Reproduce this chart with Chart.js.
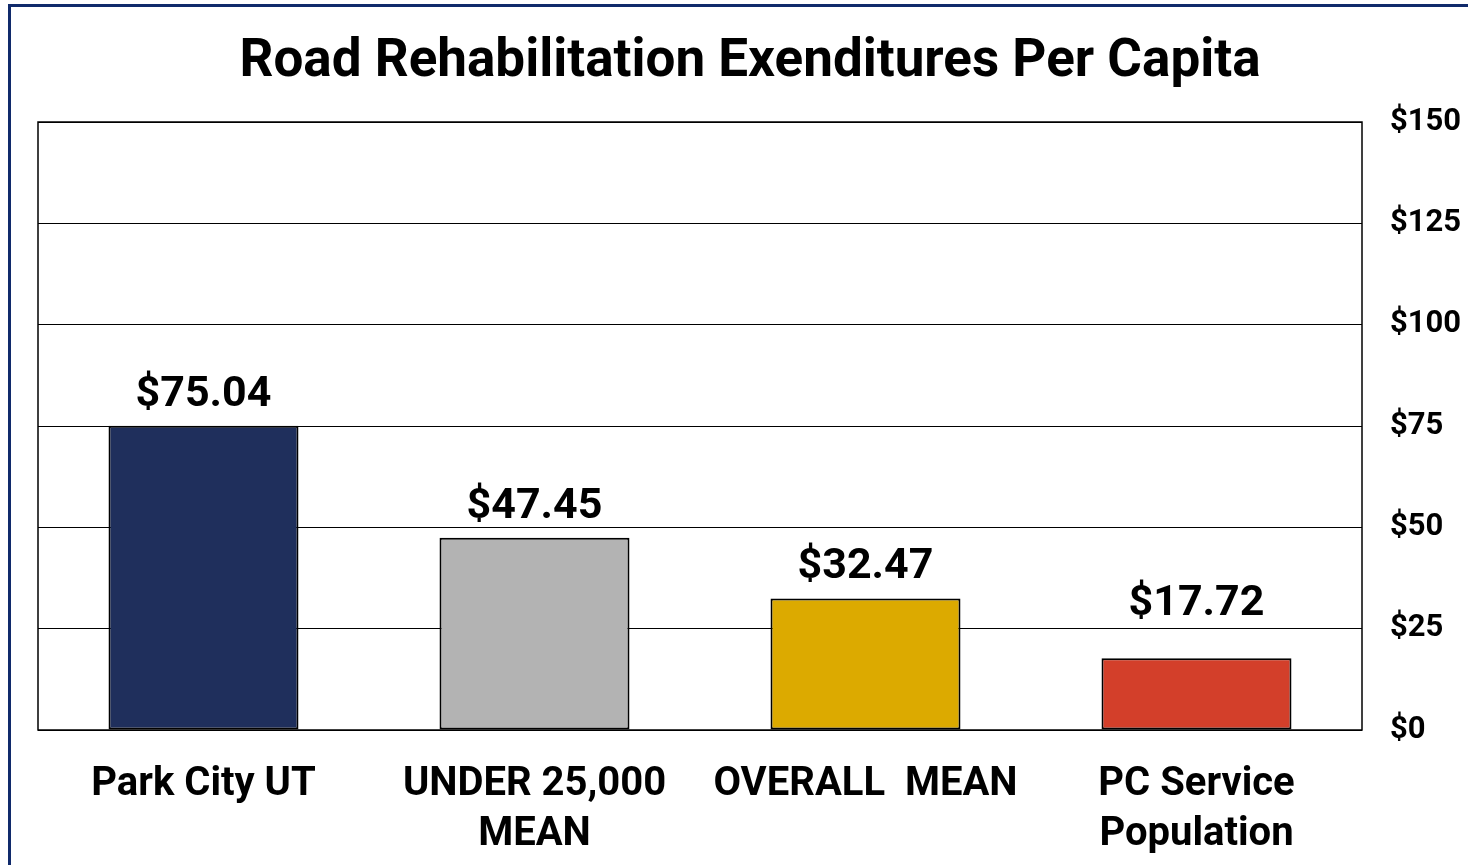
<!DOCTYPE html>
<html>
<head>
<meta charset="utf-8">
<script src="https://cdn.jsdelivr.net/npm/chart.js@4"></script>
<style>
  html, body { margin: 0; padding: 0; background: #fff; }
  #wrap { position: relative; width: 1468px; height: 865px; }
  #frame { position: absolute; left: 8px; top: 4px; right: 0; bottom: 0; border-left: 3px solid #102a6b; border-top: 3px solid #102a6b; }
  #chart { position: absolute; left: 0; top: 0; }
</style>
</head>
<body>
<div id="wrap">
  <div id="frame"></div>
  <canvas id="chart" width="1468" height="865"></canvas>
</div>
<script>
const FONT = '"Roboto", "Liberation Sans", sans-serif';

const categories = [['Park City UT'], ['UNDER 25,000', 'MEAN'], ['OVERALL  MEAN'], ['PC Service', 'Population']];
const values = [75.04, 47.45, 32.47, 17.72];
const barColors = ['#1f2f5c', '#b3b3b3', '#dcaa00', '#d33f2a'];
const yTicks = [0, 25, 50, 75, 100, 125, 150];

// black frame round the plot area
const plotFrame = {
  id: 'plotFrame',
  afterDraw(chart) {
    const { ctx, chartArea: a } = chart;
    ctx.save();
    ctx.strokeStyle = '#000';
    ctx.lineWidth = 1.5;
    ctx.strokeRect(a.left, a.top, a.right - a.left, a.bottom - a.top);
    ctx.restore();
  }
};

// value labels above bars (last one lifted clear of the $25 gridline, as in the original)
const labelGap = [20, 20, 20, 43];
const valueLabels = {
  id: 'valueLabels',
  afterDatasetsDraw(chart) {
    const { ctx } = chart;
    const meta = chart.getDatasetMeta(0);
    ctx.save();
    ctx.font = 'bold 43px ' + FONT;
    ctx.fillStyle = '#000';
    ctx.textAlign = 'center';
    ctx.textBaseline = 'alphabetic';
    meta.data.forEach((bar, i) => {
      ctx.fillText('$' + values[i].toFixed(2), bar.x, bar.y - labelGap[i]);
    });
    ctx.restore();
  }
};

new Chart(document.getElementById('chart'), {
  type: 'bar',
  data: {
    labels: categories,
    datasets: [{
      data: values,
      backgroundColor: barColors,
      borderColor: '#000',
      borderWidth: 2,
      borderSkipped: false,
      categoryPercentage: 1,
      barPercentage: 0.574
    }]
  },
  options: {
    responsive: false,
    animation: false,
    layout: { padding: { left: 38, right: 6, top: 0, bottom: 0 } },
    plugins: {
      legend: { display: false },
      tooltip: { enabled: false },
      title: {
        display: true,
        text: 'Road Rehabilitation Exenditures Per Capita',
        color: '#000',
        font: { family: FONT, size: 53, weight: 'bold', lineHeight: 1.2 },
        padding: { top: 31.2, bottom: 27.2 }
      }
    },
    scales: {
      x: {
        grid: { display: false, drawTicks: false },
        border: { display: false },
        ticks: {
          color: '#000',
          font: { family: FONT, size: 40, weight: 'bold', lineHeight: 1.25 },
          padding: 30,
          maxRotation: 0
        },
        afterFit(s) { s.height = 135; }
      },
      y: {
        position: 'right',
        min: 0,
        max: 150,
        afterBuildTicks(s) { s.ticks = yTicks.map(v => ({ value: v })); },
        grid: { color: '#000', lineWidth: 1, drawTicks: false },
        border: { display: false },
        ticks: {
          color: '#000',
          padding: 28,
          font: { family: FONT, size: 31, weight: 'bold' },
          callback: v => '$' + v
        },
        afterFit(s) { s.width = 100; }
      }
    }
  },
  plugins: [plotFrame, valueLabels]
});
</script>
</body>
</html>
